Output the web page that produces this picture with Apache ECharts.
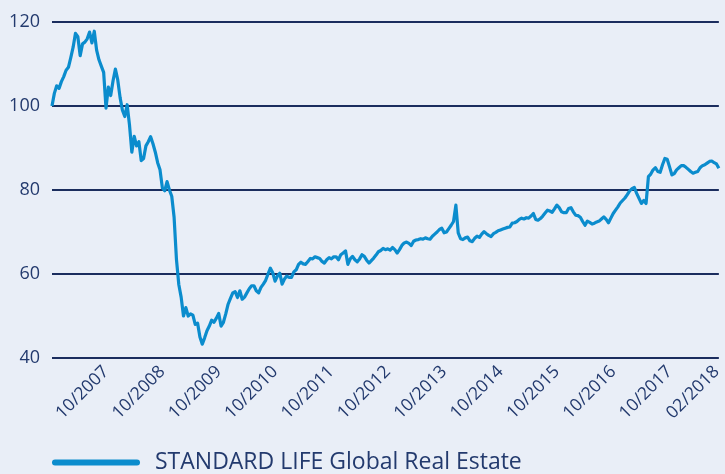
<!DOCTYPE html>
<html>
<head>
<meta charset="utf-8">
<script src="https://cdn.jsdelivr.net/npm/echarts@6/dist/echarts.min.js"></script>
<style>
  html, body { margin: 0; padding: 0; background: #e9eef7; }
  #chart { width: 725px; height: 474px; }
</style>
</head>
<body>
<div id="chart"></div>
<script>
// Fund performance, indexed to 100 at inception (semi-monthly observations)
const seriesName = 'STANDARD LIFE Global Real Estate';

const values = [
  100, 103, 104.8, 104.2, 105.8, 107, 108.5, 109.2, 111.5, 114,
  117.3, 116.5, 112, 114.8, 115.2, 116, 117.6, 115, 117.8, 113.3,
  111, 109.5, 108, 99.5, 104.5, 102.5, 106, 108.8, 106.2, 102,
  99, 97.5, 100.3, 95.5, 89, 92.8, 90.5, 91.5, 87, 87.5,
  90.5, 91.5, 92.7, 91, 89, 86.5, 84.8, 80.5, 79.8, 82,
  80, 78.5, 73.5, 63.5, 57.5, 54.5, 50, 52, 50, 50.5,
  50.2, 48, 48.3, 45, 43.3, 44.8, 46.5, 47.6, 49, 48.5,
  49.5, 50.6, 47.6, 48.5, 50.5, 52.8, 54.2, 55.5, 55.8, 54.4,
  56, 54, 54.5, 55.5, 56.5, 57.2, 57.2, 56, 55.5, 56.8,
  57.6, 58.5, 60, 61.4, 60.3, 58.3, 59.5, 60.2, 57.6, 58.8,
  59.5, 59.2, 59.2, 60.5, 61, 62.3, 62.8, 62.4, 62.3, 63,
  63.7, 63.6, 64.1, 63.9, 63.7, 63, 62.6, 63.4, 63.9, 63.6,
  64.1, 64.1, 63.4, 64.6, 65, 65.5, 62.3, 63.6, 64.2, 63.4,
  62.9, 63.6, 64.6, 64.2, 63.3, 62.6, 63.2, 63.8, 64.5, 65.3,
  65.6, 66.1, 65.8, 66, 65.7, 66.3, 65.8, 65, 65.8, 66.8,
  67.4, 67.6, 67.3, 66.8, 67.8, 68.1, 68.2, 68.4, 68.3, 68.6,
  68.4, 68.3, 69, 69.5, 70, 70.6, 70.9, 69.8, 70, 70.8,
  71.6, 72.5, 76.4, 69.8, 68.4, 68.2, 68.6, 68.8, 67.9, 67.7,
  68.5, 69, 68.7, 69.5, 70.1, 69.6, 69.2, 68.9, 69.6, 69.9,
  70.3, 70.5, 70.7, 70.9, 71.1, 71.2, 72.1, 72.2, 72.5, 73,
  73.3, 73.1, 73.4, 73.3, 73.8, 74.4, 73, 72.8, 73.2, 73.8,
  74.5, 75.2, 75, 74.7, 75.5, 76.4, 75.8, 74.8, 74.6, 74.6,
  75.6, 75.8, 74.8, 74, 73.9, 73.5, 72.5, 71.6, 72.6, 72.3,
  71.9, 72.1, 72.4, 72.6, 73.1, 73.6, 73, 72.2, 73.3, 74.4,
  75.2, 76, 76.9, 77.5, 78.1, 78.9, 79.8, 80.3, 80.6, 79.2,
  78, 76.8, 77.5, 76.8, 83.2, 83.8, 84.8, 85.3, 84.4, 84.2,
  86, 87.5, 87.3, 85.5, 83.6, 83.9, 84.8, 85.3, 85.8, 85.8,
  85.4, 84.9, 84.4, 84, 84.2, 84.4, 85.3, 85.8, 86, 86.4,
  86.8, 86.9, 86.5, 86.2, 85.2
];

// Date labels and the observation each one marks
const tickLabels = ['10/2007', '10/2008', '10/2009', '10/2010', '10/2011', '10/2012',
                    '10/2013', '10/2014', '10/2015', '10/2016', '10/2017', '02/2018'];
const tickIndex  = [23, 47, 71, 95, 119, 143, 167, 191, 215, 239, 263, 283];

const yTicks = [40, 60, 80, 100, 120];

const navy = '#1b2d5e';
const textColor = '#233a6e';
const lineColor = '#0b8ccd';
const fontFamily = '"Open Sans", "Noto Sans", sans-serif';

const chart = echarts.init(document.getElementById('chart'), null, { renderer: 'canvas' });

chart.setOption({
  backgroundColor: '#e9eef7',
  animation: false,
  grid: { left: 52, right: 0, top: 22, bottom: 116, containLabel: false },
  legend: {
    left: 52,
    top: 451,
    padding: 0,
    itemWidth: 88,
    itemHeight: 6,
    icon: 'path://M3,0 L85,0 A3,3 0 0 1 85,6 L3,6 A3,3 0 0 1 3,0 Z',
    textStyle: { color: textColor, fontSize: 23, fontFamily: fontFamily, padding: [0, 0, 0, 10] },
    data: [seriesName]
  },
  xAxis: {
    type: 'category',
    boundaryGap: false,
    data: values.map((v, i) => i),
    axisLine: { show: false },
    axisTick: { show: false },
    splitLine: { show: false },
    axisLabel: {
      interval: (i) => tickIndex.indexOf(i) >= 0,
      formatter: (v, i) => tickLabels[tickIndex.indexOf(i)] || '',
      rotate: 45,
      margin: 11,
      color: textColor,
      fontSize: 17.5,
      fontFamily: fontFamily
    }
  },
  yAxis: {
    type: 'value',
    min: yTicks[0],
    max: yTicks[yTicks.length - 1],
    interval: 20,
    axisLine: { show: false },
    axisTick: { show: false },
    axisLabel: { color: textColor, fontSize: 18, fontFamily: fontFamily, margin: 12 },
    splitLine: { lineStyle: { color: navy, width: 2 } }
  },
  series: [{
    name: seriesName,
    type: 'line',
    data: values,
    showSymbol: false,
    symbol: 'none',
    lineStyle: { color: lineColor, width: 3.2, join: 'round' },
    itemStyle: { color: lineColor }
  }]
});
</script>
</body>
</html>
